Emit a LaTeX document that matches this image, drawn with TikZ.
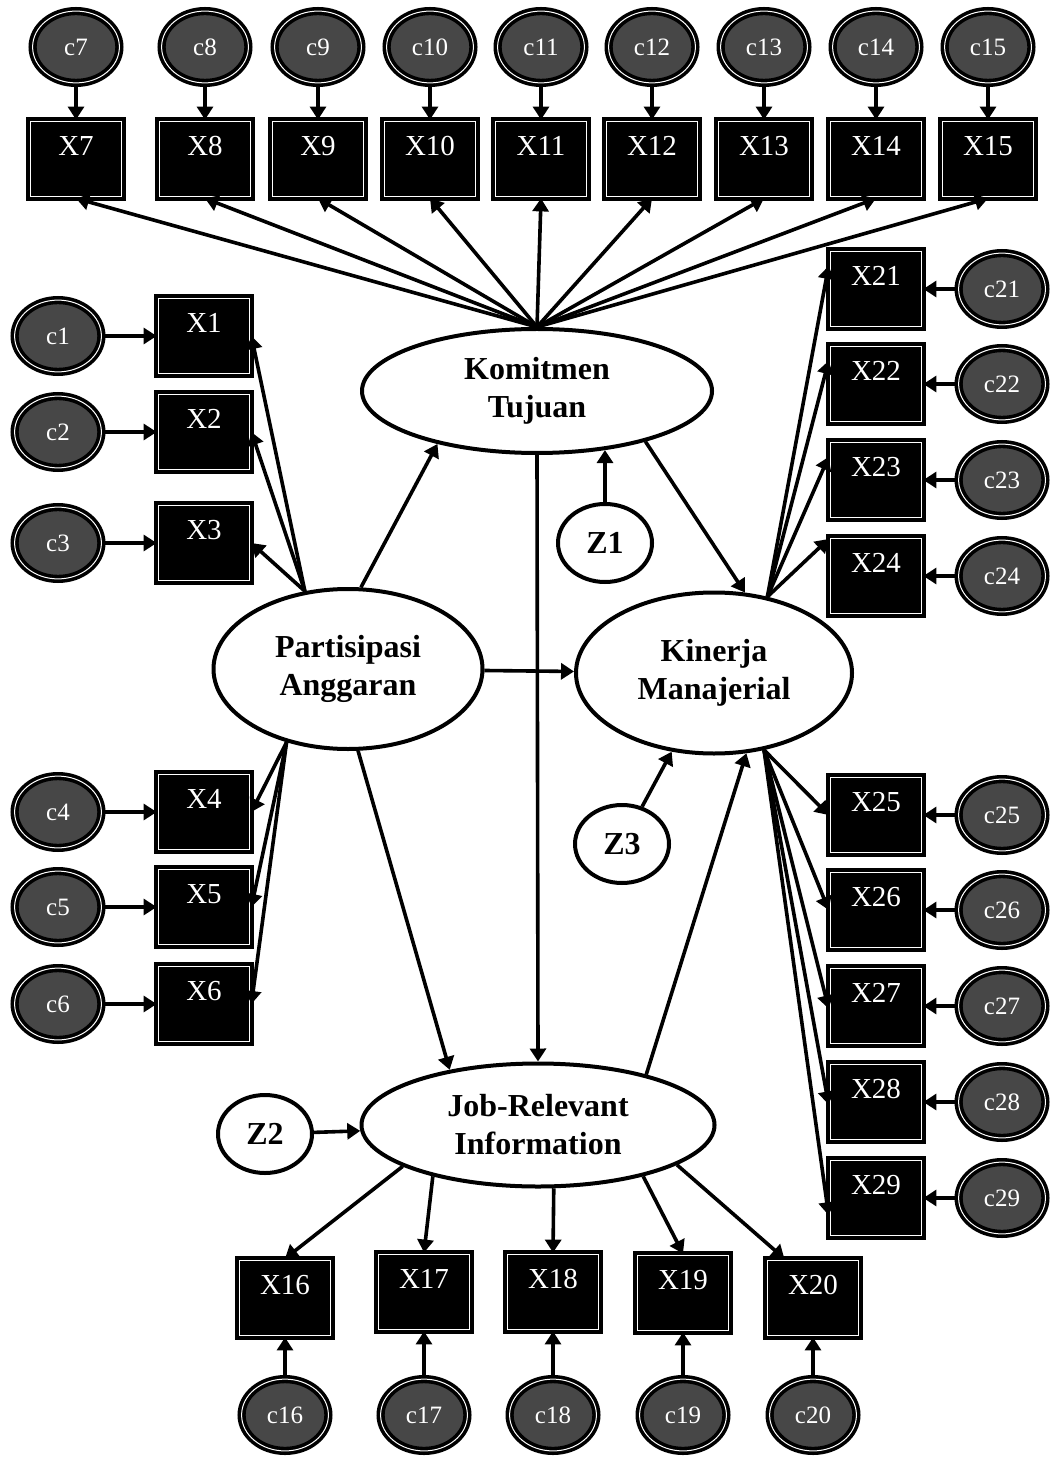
\documentclass[tikz,border=0pt]{standalone}
\usepackage{fontspec}
\setmainfont{Liberation Serif}
\usetikzlibrary{arrows.meta, shapes.geometric}
\tikzset{
  every picture/.style={line width=1.8pt},
  obs/.style={rectangle, draw=black, fill=black, line width=2pt, double=white, double distance=0.6pt,
    minimum width=45.4pt, inner sep=0pt, text height=17pt, text depth=20.4pt, text=white,
    font=\fontsize{14.5}{14.5}\selectfont},
  err/.style={ellipse, draw=black, fill=black!72, line width=1.8pt, double=white, double distance=0.5pt,
    minimum width=43.4pt, minimum height=35.9pt, inner sep=0pt, text=white,
    font=\fontsize{12.5}{12.5}\selectfont},
  latent/.style={ellipse, draw, fill=white, line width=2pt, align=center, inner sep=0pt,
    font=\bfseries\fontsize{16}{19}\selectfont},
  dist/.style={ellipse, draw, fill=white, line width=2pt, inner sep=0pt,
    minimum width=47pt, minimum height=39pt, font=\bfseries\fontsize{16}{16}\selectfont},
  arrow/.style={-{Triangle[length=6.5pt,width=8pt]}, line width=1.8pt},
}
\begin{document}
\begin{tikzpicture}[x=0.5pt, y=-0.5pt]
  \useasboundingbox (0,0) rectangle (1049,1459);
  % latent variables
  \node[latent, minimum width=175pt, minimum height=62pt] (kom) at (537,391) {Komitmen\\Tujuan};
  \node[latent, minimum width=134.5pt, minimum height=80pt] (par) at (348,669) {Partisipasi\\Anggaran};
  \node[latent, minimum width=138pt, minimum height=80.5pt] (kin) at (714,673) {Kinerja\\Manajerial};
  \node[latent, minimum width=176.5pt, minimum height=61.5pt] (job) at (538,1125) {Job-Relevant\\Information};
  \node[dist] (z1) at (605,543) {Z1};
  \node[dist] (z2) at (265,1134) {Z2};
  \node[dist] (z3) at (622,844) {Z3};
  % indicators of Komitmen Tujuan
  \foreach \i/\x in {7/76, 8/205, 9/318, 10/430, 11/541, 12/652, 13/764, 14/876, 15/988}
    { \node[err] (c\i) at (\x,47) {c\i};
      \node[obs] (x\i) at (\x,159) {X\i};
      \draw[arrow] (c\i) -- (x\i);
      \draw[arrow] (kom.north) -- (x\i.south); }
  % indicators of Partisipasi Anggaran
  \foreach \i/\y in {1/336, 2/432, 3/543}
    { \node[err] (c\i) at (58,\y) {c\i};
      \node[obs] (x\i) at (204,\y) {X\i};
      \draw[arrow] (c\i.east) -- (x\i.west);
      \draw[arrow] (par.119) -- (x\i.east); }
  \foreach \i/\y in {4/812, 5/907, 6/1004}
    { \node[err] (c\i) at (58,\y) {c\i};
      \node[obs] (x\i) at (204,\y) {X\i};
      \draw[arrow] (c\i.east) -- (x\i.west);
      \draw[arrow] (par.230) -- (x\i.east); }
  % indicators of Kinerja Manajerial
  \foreach \i/\y/\a in {21/289/154, 22/384/154, 23/480/154, 24/576/142}
    { \node[obs] (x\i) at (876,\y) {X\i};
      \node[err] (c\i) at (1002,\y) {c\i};
      \draw[arrow] (c\i.west) -- (x\i.east);
      \draw[arrow] (kin.55) -- (x\i.\a); }
  \foreach \i/\y/\a in {25/815/180, 26/910/180, 27/1006/183, 28/1102/183, 29/1198/200}
    { \node[obs] (x\i) at (876,\y) {X\i};
      \node[err] (c\i) at (1002,\y) {c\i};
      \draw[arrow] (c\i.west) -- (x\i.east);
      \draw[arrow] (kin.-57) -- (x\i.\a); }
  % indicators of Job-Relevant Information
  \foreach \i/\x/\y/\s/\t in {16/285/1298/197/north, 17/424/1292/206/north, 18/553/1292/-76/north,
                              19/683/1293/-26/north, 20/813/1298/-16/126}
    { \node[obs] (x\i) at (\x,\y) {X\i};
      \node[err] (c\i) at (\x,1415) {c\i};
      \draw[arrow] (c\i.north) -- (x\i.south);
      \draw[arrow] (job.\s) -- (x\i.\t); }
  % structural paths
  \draw[arrow] (par.81) -- (kom.208);
  \draw[arrow] (par) -- (kin);
  \draw[arrow] (kom.-25) -- (kin.69);
  \draw[arrow] (kom.south) -- (job.north);
  \draw[arrow] (par.-83) -- (job.148);
  \draw[arrow] (job.25) -- (kin.-68);
  \draw[arrow] (z1.north) -- (kom.-41);
  \draw[arrow] (z2) -- (job);
  \draw[arrow] (z3) -- (kin);
\end{tikzpicture}
\end{document}
